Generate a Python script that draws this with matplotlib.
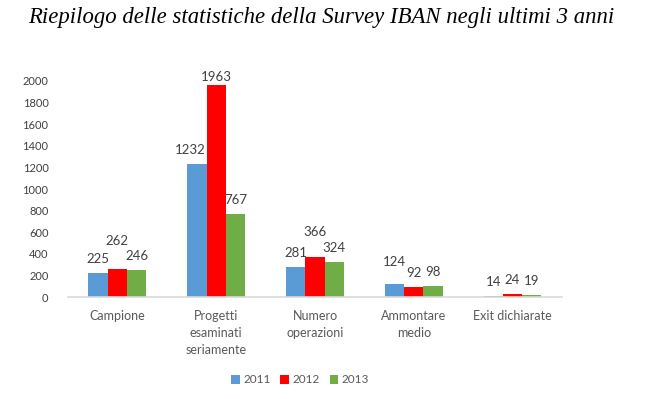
import numpy as np
import matplotlib
matplotlib.use("Agg")
import matplotlib.pyplot as plt

categories = ["Campione", "Progetti\nesaminati\nseriamente", "Numero\noperazioni",
              "Ammontare\nmedio", "Exit dichiarate"]
years = ["2011", "2012", "2013"]
v2011 = [225, 1232, 281, 124, 14]
v2012 = [262, 1963, 366, 92, 24]
v2013 = [246, 767, 324, 98, 19]
yticks = list(range(0, 2001, 200))

colors = ["#5B9BD5", "#FF0000", "#70AD47"]
# label nudges in pixels (series index, category index) -> (dx, dy), as placed in the original
nudge = {(0, 1): (-7, 0), (1, 0): (0, 14), (1, 1): (0, -6), (1, 2): (0, 11), (0, 3): (0, 8)}

plt.rcParams["font.family"] = ["Lato", "DejaVu Sans"]

fig = plt.figure(figsize=(6.5, 3.99), dpi=100)
ax = fig.add_axes([0.1046, 0.2556, 0.76, 0.5414])

x = np.arange(len(categories))
w = 0.195
px = 0.72  # points per pixel at dpi 100
handles = []
for i, (vals, c, lab) in enumerate(zip([v2011, v2012, v2013], colors, years)):
    bars = ax.bar(x + (i - 1) * w, vals, width=w, color=c, label=lab, zorder=2)
    handles.append(bars)
    for j, (xi, v) in enumerate(zip(x + (i - 1) * w, vals)):
        dx, dy = nudge.get((i, j), (0, 0))
        ax.annotate(str(v), (xi, v), xytext=(dx * px, (14 + dy) * px),
                    textcoords="offset points", ha="center", va="center",
                    fontsize=9.5, color="#404040", annotation_clip=False)

ax.set_xlim(-0.5, len(categories) - 0.5)
ax.set_ylim(0, 2000)
ax.set_yticks(yticks)
ax.set_xticks(x)
ax.set_xticklabels(categories, fontsize=9, color="#595959", linespacing=1.5, va="top")
ax.tick_params(axis="y", labelsize=8, labelcolor="#404040", length=0, pad=14)
ax.tick_params(axis="x", length=0, pad=9)
for s in ["top", "right", "left"]:
    ax.spines[s].set_visible(False)
ax.spines["bottom"].set_color("#D9D9D9")
ax.spines["bottom"].set_linewidth(1.2)

fig.legend(handles=handles, labels=years, loc="center", bbox_to_anchor=(0.462, 0.048),
           ncol=3, frameon=False, fontsize=8.5, handlelength=0.75, handleheight=0.75,
           handletextpad=0.3, columnspacing=0.8, labelcolor="#595959")

fig.text(0.043, 0.955, "Riepilogo delle statistiche della Survey IBAN negli ultimi 3 anni",
         fontsize=16.4, style="italic", family="Liberation Serif", va="center", ha="left")

fig.savefig("out.png", dpi=100)
